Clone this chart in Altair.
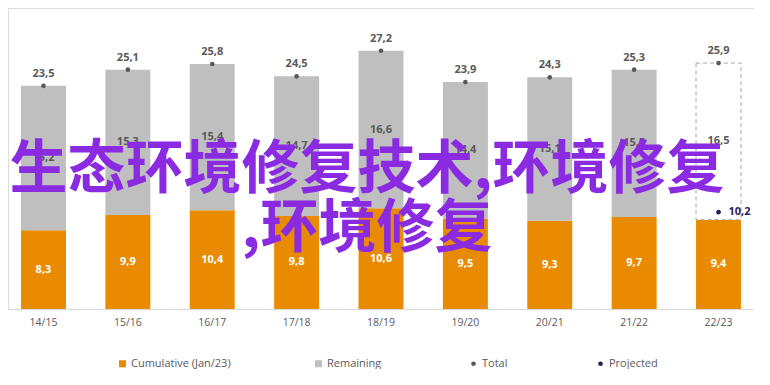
import altair as alt
import pandas as pd

seasons = ["14/15", "15/16", "16/17", "17/18", "18/19", "19/20", "20/21", "21/22", "22/23"]
cumulative = [8.3, 9.9, 10.4, 9.8, 10.6, 9.5, 9.3, 9.7, 9.4]
remaining = [15.2, 15.3, 15.4, 14.7, 16.6, 14.4, 15.1, 15.5, 16.5]
total = [23.5, 25.1, 25.8, 24.5, 27.2, 23.9, 24.3, 25.3, 25.9]
projected_season = "22/23"
projected_value = 10.2
bar_series = ["Cumulative (Jan/23)", "Remaining"]
bar_colors = ["#E88B00", "#BFBFBF"]
dot_series = ["Total", "Projected"]
dot_colors = ["#595959", "#2B1A5C"]
title_line1 = "生态环境修复技术,环境修复"
title_line2 = ",环境修复"

last = seasons[-1]
wide = pd.DataFrame({"season": seasons, "cum": cumulative, "rem": remaining, "total": total})
wide["top"] = wide["cum"] + wide["rem"]

rows = []
for s, c, r in zip(seasons, cumulative, remaining):
    rows.append({"season": s, "series": bar_series[0], "value": c, "order": 0})
    if s != last:
        rows.append({"season": s, "series": bar_series[1], "value": r, "order": 1})
bars_df = pd.DataFrame(rows)
proj_df = pd.DataFrame({"season": [projected_season], "value": [projected_value]})
legend_df = pd.DataFrame({"series": dot_series, "season": [seasons[0]] * 2, "value": [-5.0] * 2})

FONT = "Open Sans"
LABEL = "#595959"

xenc = alt.X("season:N", sort=seasons,
             scale=alt.Scale(paddingInner=0.467, paddingOuter=0.154),
             axis=alt.Axis(title=None, labelAngle=0, ticks=False, domainColor="#D9D9D9",
                           labelColor=LABEL, labelFont=FONT, labelFontSize=10.5,
                           labelPadding=8, grid=False))
yscale = alt.Scale(domain=[0, 31.7], nice=False, zero=True)

fmt = "replace(format(datum.{f}, '.1f'), '.', ',')"

common = dict(title=None, orient="none", direction="horizontal", legendY=350,
              labelFont=FONT, labelFontSize=11, labelColor=LABEL, labelOffset=3,
              symbolStrokeWidth=0)
legA = alt.Legend(legendX=109, columnPadding=82, symbolType="square", symbolSize=49, **common)
legB = alt.Legend(legendX=460, columnPadding=87, symbolType="circle", symbolSize=22, **common)

bars = alt.Chart(bars_df).mark_bar().encode(
    x=xenc,
    y=alt.Y("value:Q", stack="zero", scale=yscale, axis=None),
    order=alt.Order("order:Q"),
    color=alt.Color("series:N", scale=alt.Scale(domain=bar_series, range=bar_colors), legend=legA),
)

legend_layer = alt.Chart(legend_df).mark_circle(clip=True, opacity=1, size=22).encode(
    x=alt.X("season:N", sort=seasons),
    y=alt.Y("value:Q", scale=yscale),
    color=alt.Color("series:N", scale=alt.Scale(domain=dot_series, range=dot_colors), legend=legB),
)

dashed = alt.Chart(wide[wide["season"] == last]).mark_bar(
    fill="white", stroke="#A6A6A6", strokeWidth=1, strokeDash=[4, 3]
).encode(x=alt.X("season:N", sort=seasons), y=alt.Y("cum:Q", scale=yscale), y2="top:Q")

cum_text = alt.Chart(wide).transform_calculate(
    lbl=fmt.format(f="cum"), mid="datum.cum / 2"
).mark_text(color="white", font=FONT, fontWeight="bold", fontSize=11).encode(
    x=alt.X("season:N", sort=seasons), y=alt.Y("mid:Q", scale=yscale), text="lbl:N")

rem_text = alt.Chart(wide).transform_calculate(
    lbl=fmt.format(f="rem"), mid="datum.cum + datum.rem / 2"
).mark_text(color=LABEL, font=FONT, fontWeight="bold", fontSize=11).encode(
    x=alt.X("season:N", sort=seasons), y=alt.Y("mid:Q", scale=yscale), text="lbl:N")

tot_pts = alt.Chart(wide).mark_circle(size=22, color=dot_colors[0], opacity=1).encode(
    x=alt.X("season:N", sort=seasons), y=alt.Y("top:Q", scale=yscale))

tot_text = alt.Chart(wide).transform_calculate(lbl=fmt.format(f="total")).mark_text(
    color=LABEL, font=FONT, fontWeight="bold", fontSize=11, dy=-12).encode(
    x=alt.X("season:N", sort=seasons), y=alt.Y("top:Q", scale=yscale), text="lbl:N")

proj_pt = alt.Chart(proj_df).mark_circle(size=22, color=dot_colors[1], opacity=1).encode(
    x=alt.X("season:N", sort=seasons), y=alt.Y("value:Q", scale=yscale))

proj_text = alt.Chart(proj_df).transform_calculate(lbl=fmt.format(f="value")).mark_text(
    color=dot_colors[1], font=FONT, fontWeight="bold", fontSize=11, align="left", dx=10).encode(
    x=alt.X("season:N", sort=seasons), y=alt.Y("value:Q", scale=yscale), text="lbl:N")

t1 = alt.Chart(proj_df).mark_text(
    font="Noto Sans CJK SC", fontWeight="bold", fontSize=58, color="#8A2BE2",
    align="center", baseline="middle").encode(
    x=alt.value(359), y=alt.value(163), text=alt.value(title_line1))
t2 = alt.Chart(proj_df).mark_text(
    font="Noto Sans CJK SC", fontWeight="bold", fontSize=58, color="#8A2BE2",
    align="center", baseline="middle").encode(
    x=alt.value(359), y=alt.value(222), text=alt.value(title_line2))

chart = alt.layer(bars, legend_layer, dashed, cum_text, rem_text, tot_pts, tot_text,
                  proj_pt, proj_text, t1, t2).resolve_scale(color="independent").properties(
    width=746, height=301, padding=0
).configure_view(stroke=None).configure(background="white")

chart.save("out.html", embed_options={"renderer": "svg", "actions": False})
